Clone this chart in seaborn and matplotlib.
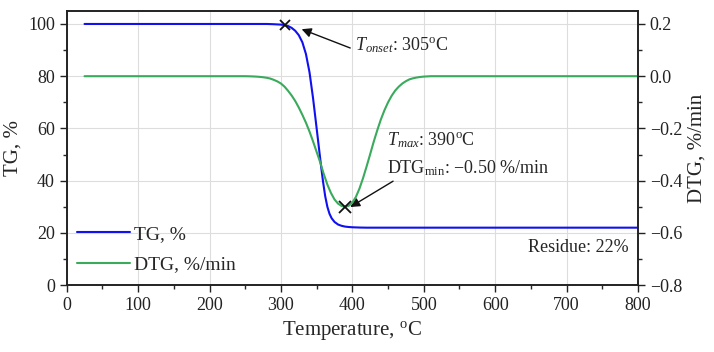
import numpy as np
import pandas as pd
import matplotlib
matplotlib.use("Agg")
import matplotlib.pyplot as plt
from matplotlib.ticker import MultipleLocator
import seaborn as sns

# ---- data ----
tg_temp = [25, 280, 290, 300, 305, 310, 315, 320, 325, 330, 335, 340, 345, 350, 353, 356, 359, 362, 365,
           368, 371, 375, 380, 385, 390, 395, 400, 410, 420, 800]
tg_val = [100, 100, 99.9, 99.75, 99.6, 99.2, 98.5, 97.4, 95.7, 93.0, 88.5, 81.5, 71.5, 60, 53, 46, 39.5, 34,
          30, 27.3, 25.6, 24.2, 23.2, 22.7, 22.4, 22.25, 22.15, 22.05, 22.0, 22.0]

dtg_temp = [25, 250, 255, 260, 265, 270, 275, 280, 285, 290, 295, 300, 305, 310, 315, 320, 325, 330, 335,
            340, 345, 350, 355, 360, 365, 370, 375, 380, 385, 390, 395, 400, 405, 410, 415, 420, 425, 430,
            435, 440, 445, 450, 455, 460, 465, 470, 475, 480, 485, 490, 495, 500, 505, 510, 800]
dtg_val = [0, 0, -0.0003, -0.0008, -0.0015, -0.0025, -0.004, -0.006, -0.009, -0.014, -0.02, -0.028, -0.04,
           -0.056, -0.074, -0.095, -0.12, -0.148, -0.178, -0.212, -0.25, -0.29, -0.33, -0.375, -0.415,
           -0.447, -0.472, -0.488, -0.497, -0.50, -0.496, -0.484, -0.462, -0.43, -0.39, -0.345, -0.298,
           -0.25, -0.206, -0.165, -0.13, -0.10, -0.075, -0.055, -0.04, -0.028, -0.019, -0.012, -0.008,
           -0.005, -0.003, -0.0015, -0.0007, 0, 0]

onset_point = (305, 99.6)
dtg_min_point = (390, -0.50)

sns.set_theme(style="ticks")
plt.rcParams['font.family'] = ['Liberation Serif', 'DejaVu Serif']
plt.rcParams['mathtext.fontset'] = 'custom'
plt.rcParams['mathtext.rm'] = 'Liberation Serif'
plt.rcParams['mathtext.it'] = 'Liberation Serif:italic'

blue = '#1010f0'
green = '#3aaa5c'

fig = plt.figure(figsize=(7.14, 3.52), dpi=100)
ax = fig.add_axes([0.0934, 0.190, 0.8002, 0.779])
ax2 = ax.twinx()

tg_df = pd.DataFrame({'T': tg_temp, 'TG': tg_val})
dtg_df = pd.DataFrame({'T': dtg_temp, 'DTG': dtg_val})

sns.lineplot(data=tg_df, x='T', y='TG', ax=ax, color=blue, lw=1.5, label='TG, %', legend=False)
sns.lineplot(data=dtg_df, x='T', y='DTG', ax=ax2, color=green, lw=1.5, label='DTG, %/min', legend=False)

ax.set_xlim(0, 800)
ax.set_ylim(0, 105)
ax2.set_ylim(-0.8, 0.25)

ax.xaxis.set_major_locator(MultipleLocator(100))
ax.xaxis.set_minor_locator(MultipleLocator(50))
ax.yaxis.set_major_locator(MultipleLocator(20))
ax.yaxis.set_minor_locator(MultipleLocator(10))
ax2.yaxis.set_major_locator(MultipleLocator(0.2))
ax2.yaxis.set_minor_locator(MultipleLocator(0.1))
ax2.set_yticks(ax2.get_yticks())
ax2.set_yticklabels([f"{v:.1f}".replace('-', '\u2212') for v in ax2.get_yticks()])
ax2.set_ylim(-0.8, 0.25)

ax.grid(True, which='major', color='#dddddd', lw=0.8)
ax.set_axisbelow(True)

for a in (ax, ax2):
    a.tick_params(which='major', direction='out', length=5, width=1.0, labelsize=13, colors='#222222')
    a.tick_params(which='minor', direction='out', length=3, width=1.0)
    for s in a.spines.values():
        s.set_linewidth(1.2)
        s.set_color('#222222')

ax.set_xlabel('Temperature, $^{\\rm o}$C', fontsize=15)
ax.set_ylabel('TG, %', fontsize=15)
ax2.set_ylabel('DTG, %/min', fontsize=15)
ax2.set_xlabel('')

# markers
ax.plot([onset_point[0]], [onset_point[1]], marker='x', color='#111111', ms=7, mew=1.3, zorder=5)
ax2.plot([dtg_min_point[0]], [dtg_min_point[1]], marker='x', color='#111111', ms=8, mew=1.3, zorder=5)

arrowprops = dict(arrowstyle='-|>', color='#111111', lw=1.0, mutation_scale=14, shrinkA=0, shrinkB=0)
ax.annotate('', xy=(329, 98), xytext=(397, 90.8), arrowprops=arrowprops)
ax.annotate('', xy=(397, 29.9), xytext=(457, 39.8), arrowprops=arrowprops)

ax.text(404, 92, '$T_{onset}$: 305$^{\\rm o}$C', fontsize=13, va='center', ha='left')
ax.text(449, 55.6, '$T_{max}$: 390$^{\\rm o}$C', fontsize=13, va='center', ha='left')
ax.text(449, 44.8, 'DTG$_{\\rm min}$: \u22120.50 %/min', fontsize=13, va='center', ha='left')
ax.text(787, 14.3, 'Residue: 22%', fontsize=13, va='center', ha='right')

h1, l1 = ax.get_legend_handles_labels()
h2, l2 = ax2.get_legend_handles_labels()
ax.legend(h1 + h2, l1 + l2, loc='center left', bbox_to_anchor=(0.0186, 0.13), frameon=False,
          fontsize=14, handlelength=2.7, handletextpad=0.2, labelspacing=0.65, borderpad=0,
          borderaxespad=0)

fig.savefig('out.png', dpi=100)
